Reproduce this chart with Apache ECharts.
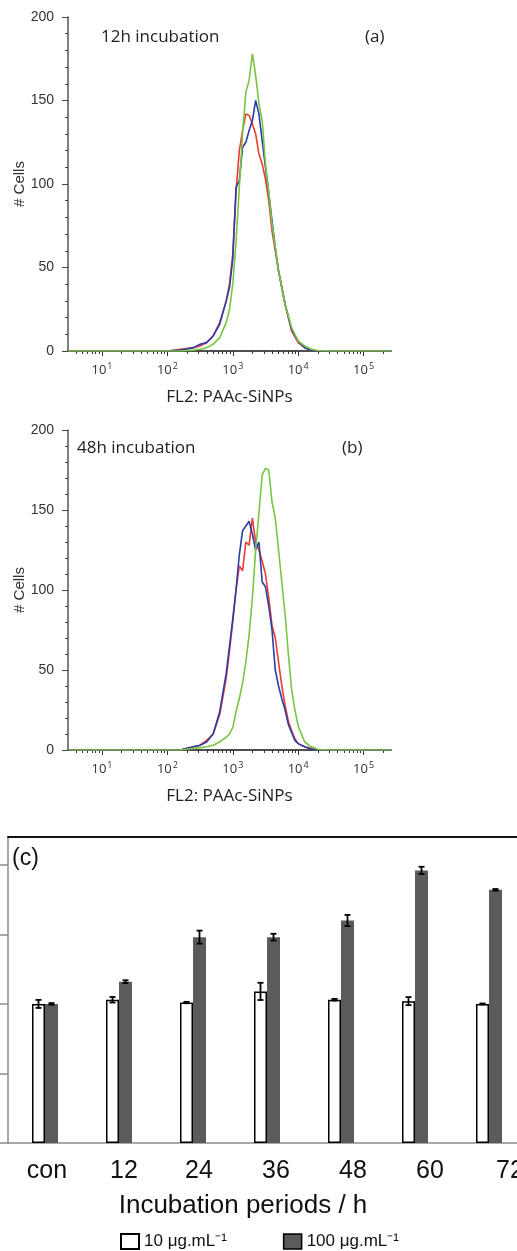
<!DOCTYPE html>
<html>
<head>
<meta charset="utf-8">
<script src="https://cdn.jsdelivr.net/npm/echarts@6/dist/echarts.min.js"></script>
<style>
    html, body { margin: 0; padding: 0; background: #fff; }
    #main { width: 517px; height: 1251px; }
</style>
</head>
<body>
<div id="main"></div>
<script>
    // (a) 12h incubation -- x is log10(FL2), y is # cells
    var logA = [0.48, 2.0, 2.2, 2.4, 2.5, 2.6, 2.7, 2.8, 2.9, 2.95, 3.0, 3.05, 3.1, 3.15, 3.2, 3.25, 3.3, 3.35, 3.4, 3.45, 3.5, 3.55, 3.6, 3.65, 3.7, 3.8, 3.9, 4.0, 4.1, 4.2, 4.3, 4.5, 5.42];
    var redA = [0, 0, 1, 2, 3, 5, 9, 17, 30, 40, 58, 95, 120, 132, 142, 141, 136, 130, 118, 112, 103, 90, 72, 60, 48, 28, 12, 5, 2, 0.5, 0, 0, 0];
    var blueA = [0, 0, 0.5, 2, 4, 5, 9, 16, 30, 38, 55, 98, 102, 122, 125, 132, 138, 150, 142, 126, 110, 95, 78, 62, 48, 28, 13, 6, 2, 0.5, 0, 0, 0];
    var greenA = [0, 0, 0, 0.5, 1, 2, 4, 8, 17, 25, 40, 65, 98, 130, 155, 162, 178, 165, 148, 138, 112, 95, 76, 62, 48, 28, 14, 6, 3, 1, 0.3, 0, 0];

    // (b) 48h incubation
    var logB = [0.48, 2.0, 2.2, 2.3, 2.4, 2.5, 2.6, 2.7, 2.8, 2.9, 2.95, 3.0, 3.05, 3.1, 3.15, 3.2, 3.25, 3.3, 3.35, 3.4, 3.45, 3.5, 3.55, 3.6, 3.65, 3.7, 3.75, 3.8, 3.85, 3.9, 3.95, 4.0, 4.1, 4.2, 4.3, 4.4, 5.42];
    var redB = [0, 0, 0, 1, 2, 3, 6, 10, 22, 45, 62, 80, 100, 115, 112, 130, 128, 145, 130, 125, 118, 110, 95, 78, 70, 55, 40, 28, 18, 12, 7, 4, 2, 1, 0, 0, 0];
    var blueB = [0, 0, 0, 1, 2, 3, 5, 10, 24, 48, 65, 82, 100, 122, 137, 140, 143, 135, 125, 130, 105, 102, 90, 75, 50, 40, 32, 25, 16, 11, 6, 4, 2, 0.5, 0, 0, 0];
    var greenB = [0, 0, 0, 0.5, 1, 1.5, 2, 3, 5, 8, 10, 14, 24, 32, 42, 55, 72, 95, 125, 148, 172, 176, 175, 155, 145, 125, 105, 85, 60, 38, 25, 15, 5, 2, 0.5, 0, 0];

    var decades = [1, 2, 3, 4, 5];

    // (c) bar chart
    var periods = ['con', '12', '24', '36', '48', '60', '72'];
    var low = [100, 103, 101, 109, 103, 102, 100];
    var lowErr = [2.9, 2, 0.5, 6.2, 0.6, 2.9, 0.3];
    var high = [100, 116, 148, 148, 160, 196, 182];
    var highErr = [0.6, 1, 4.7, 2.4, 4, 2.6, 0.6];

    var lowName = '10 μg.mL⁻¹';
    var highName = '100 μg.mL⁻¹';

    // labels under the bars drift right in the original
    var labelNudge = [4, 10, 12, 18, 24, 30, 42];

    // minor log ticks 2..9 x 10^n
    var minorTicks = [];
    for (var n = 0; n <= 5; n++) {
        for (var k = 2; k <= 9; k++) {
            var v = n + Math.log10(k);
            if (v > 0.48 && v < 5.42) minorTicks.push(v);
        }
    }

    function pairs(xs, ys) {
        return xs.map(function (x, i) { return [x, ys[i]]; });
    }

    function errRows(mean, err) {
        return mean.map(function (m, i) { return [i, m - err[i], m + err[i]]; });
    }

    function errorBars(shift) {
        return function (params, api) {
            var i = api.value(0);
            var top = api.coord([i, api.value(2)]);
            var bot = api.coord([i, api.value(1)]);
            var x = top[0] + shift;
            var st = { stroke: '#000', lineWidth: 1.8 };
            return {
                type: 'group',
                children: [
                    { type: 'line', shape: { x1: x, y1: top[1], x2: x, y2: bot[1] }, style: st },
                    { type: 'line', shape: { x1: x - 3, y1: top[1], x2: x + 3, y2: top[1] }, style: st },
                    { type: 'line', shape: { x1: x - 3, y1: bot[1], x2: x + 3, y2: bot[1] }, style: st }
                ]
            };
        };
    }

    var sans = 'Open Sans';
    var arial = 'Liberation Sans';

    var catRich = {};
    labelNudge.forEach(function (p, i) {
        catRich['c' + i] = { fontFamily: arial, fontSize: 25, color: '#111', padding: [0, 0, 0, p] };
    });

    function histX(grid) {
        return [
            {
                gridIndex: grid, type: 'value', position: 'bottom', min: 0.48, max: 5.42,
                axisLine: { onZero: false, lineStyle: { color: '#444', width: 1.5 } },
                axisTick: { customValues: decades, length: 5, lineStyle: { color: '#333' } },
                axisLabel: {
                    customValues: decades, margin: 11,
                    formatter: function (v) { return '{b|10}{s|' + v + '}'; },
                    rich: {
                        b: { fontFamily: sans, fontSize: 13, color: '#333' },
                        s: { fontFamily: sans, fontSize: 9, color: '#333', padding: [0, 0, 8, 1] }
                    }
                },
                splitLine: { show: false },
                name: 'FL2: PAAc-SiNPs', nameLocation: 'middle', nameGap: 38,
                nameTextStyle: { fontFamily: sans, fontSize: 17, color: '#222' }
            },
            {
                gridIndex: grid, type: 'value', position: 'bottom', min: 0.48, max: 5.42,
                axisLine: { show: false, onZero: false },
                axisTick: { customValues: minorTicks, length: 3, lineStyle: { color: '#333' } },
                axisLabel: { show: false },
                splitLine: { show: false }
            },
            {
                gridIndex: grid, type: 'value', position: 'top', min: 0, max: 1,
                axisLine: { lineStyle: { color: '#444', width: 1.5 } },
                axisTick: { show: false }, axisLabel: { show: false }, splitLine: { show: false }
            }
        ];
    }

    function histY(grid) {
        return {
            gridIndex: grid, type: 'value', min: 0, max: 200, interval: 50,
            axisLine: { show: true, lineStyle: { color: '#555', width: 1.5 } },
            axisTick: { length: 6, lineStyle: { color: '#444' } },
            minorTick: { show: true, splitNumber: 5, length: 3, lineStyle: { color: '#444' } },
            axisLabel: { fontFamily: arial, fontSize: 14, color: '#333', margin: 14 },
            splitLine: { show: false },
            name: '# Cells', nameLocation: 'middle', nameGap: 41, nameMoveOverlap: false,
            nameTextStyle: { fontFamily: arial, fontSize: 15, color: '#333' }
        };
    }

    function curve(x, y, color, xi, yi) {
        return {
            type: 'line', data: pairs(x, y), xAxisIndex: xi, yAxisIndex: yi,
            showSymbol: false, smooth: false,
            lineStyle: { color: color, width: 1.6 }
        };
    }

    var RED = '#ee3b2f', BLUE = '#2b3ea8', GREEN = '#78c543';

    var titleFont = { fontFamily: sans, fontSize: 17, fontWeight: 'normal', color: '#222' };

    var myChart = echarts.init(document.getElementById('main'));

    var option = {
        backgroundColor: '#fff',
        animation: false,
        title: [
            { text: '12h incubation', left: 101, top: 29, padding: 0, textStyle: titleFont },
            { text: '(a)', left: 365, top: 29, padding: 0, textStyle: titleFont },
            { text: '48h incubation', left: 77, top: 440, padding: 0, textStyle: titleFont },
            { text: '(b)', left: 342, top: 440, padding: 0, textStyle: titleFont },
            { text: '(c)', left: 12, top: 847, padding: 0, textStyle: { fontFamily: arial, fontSize: 23, fontWeight: 'normal', color: '#111' } }
        ],
        legend: {
            data: [
                { name: lowName },
                { name: highName, itemStyle: { borderColor: '#000', borderWidth: 1.5 } }
            ],
            left: 120, top: 1233, padding: 0, itemWidth: 18, itemHeight: 15, itemGap: 56,
            icon: 'rect',
            textStyle: { fontFamily: arial, fontSize: 17, color: '#111' }
        },
        grid: [
            { left: 68, top: 17, right: 126, bottom: 900, outerBoundsMode: 'none' },
            { left: 68, top: 430, right: 126, bottom: 501, outerBoundsMode: 'none' },
            { left: 8, top: 837, right: -9, bottom: 108, outerBoundsMode: 'none' }
        ],
        xAxis: histX(0).concat(histX(1)).concat([
            {
                gridIndex: 2, type: 'category', data: periods, position: 'bottom',
                axisLine: { lineStyle: { color: '#8c8c8c', width: 1.5 } },
                axisTick: { interval: 0, length: 7, lineStyle: { color: '#8c8c8c', width: 1.5 } },
                axisLabel: {
                    margin: 16, interval: 0, hideOverlap: false, showMinLabel: true, showMaxLabel: true,
                    formatter: function (v, i) { return '{c' + i + '|' + v + '}'; },
                    rich: catRich
                },
                name: 'Incubation periods / h', nameLocation: 'middle', nameGap: 50,
                nameTextStyle: { fontFamily: arial, fontSize: 26, color: '#111', padding: [0, 48, 0, 0] }
            },
            {
                gridIndex: 2, type: 'value', position: 'top', min: 0, max: 1,
                axisLine: { lineStyle: { color: '#111', width: 2 } },
                axisTick: { show: false }, axisLabel: { show: false }, splitLine: { show: false }
            }
        ]),
        yAxis: [
            histY(0),
            histY(1),
            {
                gridIndex: 2, type: 'value', min: 0, max: 220, interval: 50,
                axisLine: { show: true, lineStyle: { color: '#8c8c8c', width: 1.5 } },
                axisTick: { show: true, customValues: [0, 50, 100, 150, 200], length: 8, lineStyle: { color: '#8c8c8c', width: 1.5 } },
                axisLabel: { show: false },
                splitLine: { show: false }
            }
        ],
        series: [
            curve(logA, redA, RED, 0, 0),
            curve(logA, blueA, BLUE, 0, 0),
            curve(logA, greenA, GREEN, 0, 0),
            curve(logB, redB, RED, 3, 1),
            curve(logB, blueB, BLUE, 3, 1),
            curve(logB, greenB, GREEN, 3, 1),
            {
                name: lowName, type: 'bar', xAxisIndex: 6, yAxisIndex: 2,
                data: low, barWidth: 13, barGap: '0%',
                itemStyle: { color: '#fff', borderColor: '#000', borderWidth: 1.5 }
            },
            {
                name: highName, type: 'bar', xAxisIndex: 6, yAxisIndex: 2,
                data: high, barWidth: 13, barGap: '0%',
                itemStyle: { color: '#5b5b5b' }
            },
            {
                type: 'custom', xAxisIndex: 6, yAxisIndex: 2, z: 5,
                data: errRows(low, lowErr), encode: { x: 0, y: [1, 2] },
                renderItem: errorBars(-6.5)
            },
            {
                type: 'custom', xAxisIndex: 6, yAxisIndex: 2, z: 5,
                data: errRows(high, highErr), encode: { x: 0, y: [1, 2] },
                renderItem: errorBars(6.5)
            }
        ]
    };

    myChart.setOption(option);
</script>
</body>
</html>
